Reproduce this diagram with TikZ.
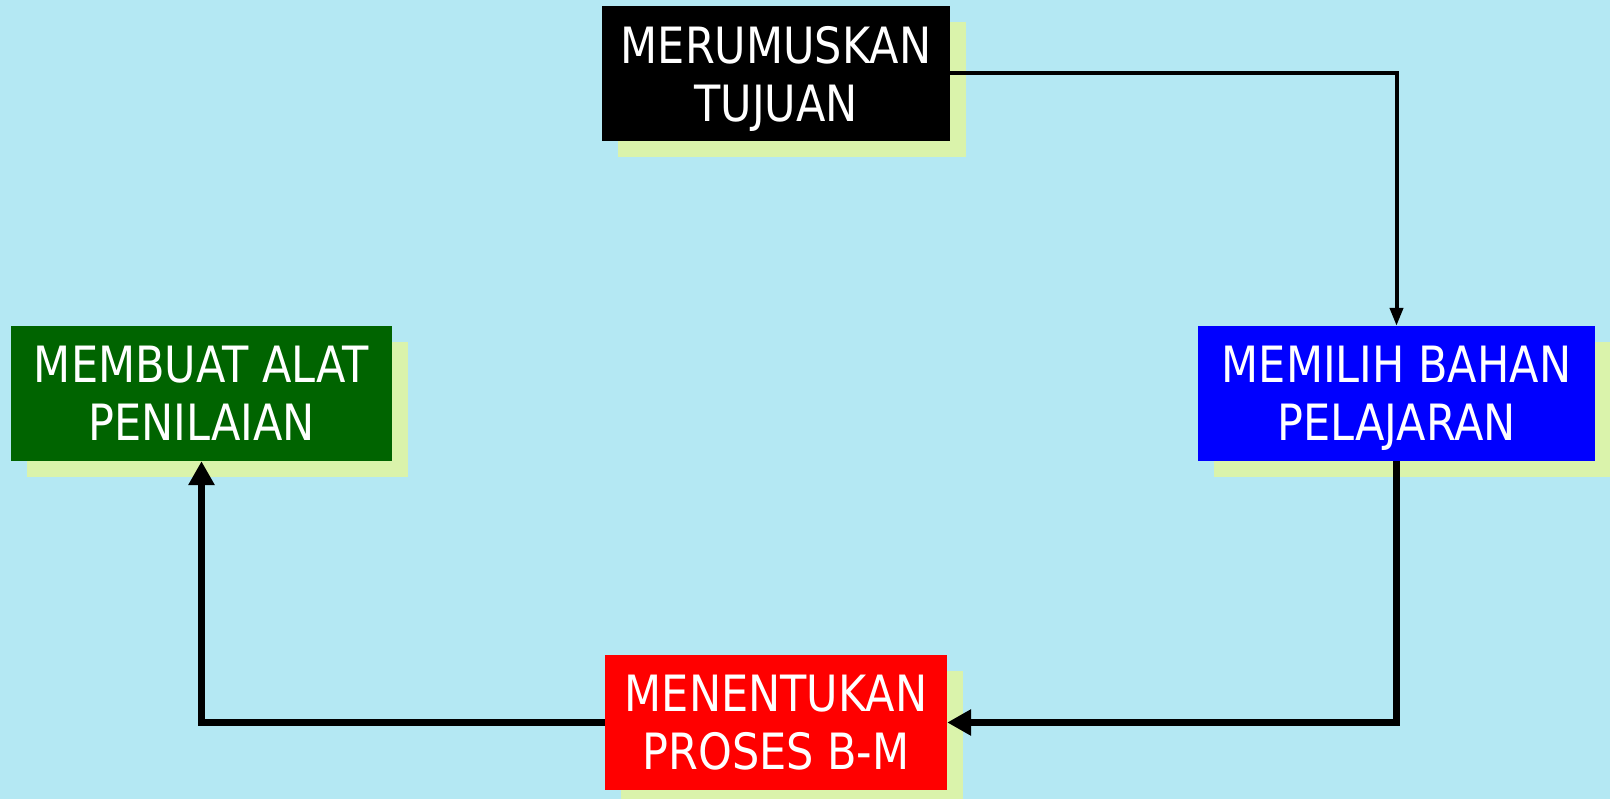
\documentclass[tikz,border=0pt]{standalone}
\usepackage{fontspec}
\setmainfont{DejaVu Sans}[FakeStretch=0.86]
\usetikzlibrary{arrows.meta,shadows}
\definecolor{bgcyan}{RGB}{180,232,243}
\definecolor{shadowlime}{RGB}{218,243,171}
\definecolor{boxgreen}{RGB}{0,100,0}
\tikzset{
  stepbox/.style={fill=#1, text=white, align=center, minimum height=135pt, inner sep=0pt,
    text depth=0pt, font=\fontsize{50}{58}\selectfont,
    drop shadow={shadow xshift=16pt, shadow yshift=-16pt, fill=shadowlime, opacity=1}},
  thinflow/.style={line width=4pt, -{Triangle[length=18pt,width=13pt]}},
  thickflow/.style={line width=7pt, -{Triangle[length=24pt,width=25pt]}}
}
\begin{document}
\begin{tikzpicture}[x=1pt,y=-1pt]
				\fill[bgcyan] (0,0) rectangle (1610,799);
				\useasboundingbox (0,0) rectangle (1610,799);
				\node[stepbox=black, minimum width=348pt] (tujuan) at (776,73.5) {MERUMUSKAN\\TUJUAN};
				\node[stepbox=blue, minimum width=397pt] (bahan) at (1396.5,393.5) {MEMILIH BAHAN\\PELAJARAN};
				\node[stepbox=red, minimum width=342pt] (proses) at (776,722.5) {MENENTUKAN\\PROSES B-M};
				\node[stepbox=boxgreen, minimum width=381pt] (penilaian) at (201.5,393.5) {MEMBUAT ALAT\\PENILAIAN};
				\draw[thinflow] (tujuan.east) -| (bahan.north);
				\draw[thickflow] (bahan.south) |- (proses.east);
				\draw[thickflow] (proses.west) -| (penilaian.south);
\end{tikzpicture}
\end{document}
